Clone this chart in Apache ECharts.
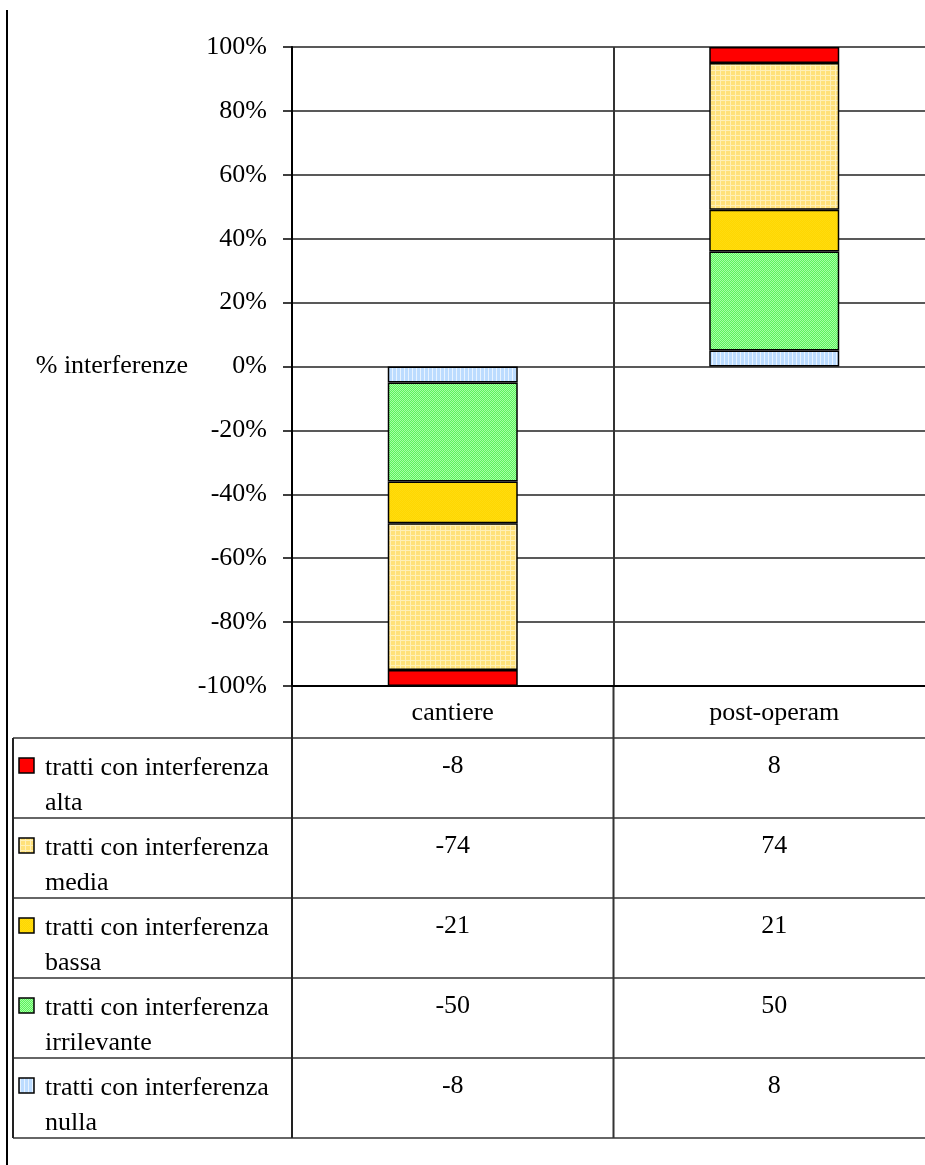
<!DOCTYPE html>
<html>
<head>
<meta charset="utf-8">
<script src="https://cdn.jsdelivr.net/npm/echarts@6/dist/echarts.min.js"></script>
<style>
  html, body { margin: 0; padding: 0; background: #fff; }
  #main { width: 925px; height: 1165px; }
</style>
</head>
<body>
<div id="main"></div>
<script>
// data
var categories = ['cantiere', 'post-operam'];
var rowNames = [
    'tratti con interferenza alta',
    'tratti con interferenza media',
    'tratti con interferenza bassa',
    'tratti con interferenza irrilevante',
    'tratti con interferenza nulla'
];
var alta = [-8, 8];
var media = [-74, 74];
var bassa = [-21, 21];
var irrilevante = [-50, 50];
var nulla = [-8, 8];
var yMin = -100, yMax = 100, yStep = 20;

var FONT = '"Liberation Serif", "Times New Roman", serif';

// small canvas tiles for the excel-like fill patterns
function tile(w, h, draw) {
    var c = document.createElement('canvas');
    c.width = w; c.height = h;
    draw(c.getContext('2d'));
    return { image: c, repeat: 'repeat' };
}
var fills = {
    alta: '#ff0000',
    media: tile(5, 5, function (g) {
        g.fillStyle = '#ffe17a'; g.fillRect(0, 0, 5, 5);
        g.fillStyle = '#fff0b8'; g.fillRect(0, 0, 1, 5); g.fillRect(0, 0, 5, 1);
    }),
    bassa: tile(2, 2, function (g) {
        g.fillStyle = '#ffd700'; g.fillRect(0, 0, 2, 2);
        g.fillStyle = '#ffdc10'; g.fillRect(0, 0, 1, 1); g.fillRect(1, 1, 1, 1);
    }),
    irrilevante: tile(2, 2, function (g) {
        g.fillStyle = '#5cf25c'; g.fillRect(0, 0, 2, 2);
        g.fillStyle = '#a6ffa6'; g.fillRect(0, 0, 1, 1); g.fillRect(1, 1, 1, 1);
    }),
    nulla: tile(4, 4, function (g) {
        g.fillStyle = '#bcdcff'; g.fillRect(0, 0, 4, 4);
        g.fillStyle = '#e8f3ff'; g.fillRect(0, 0, 1, 4);
    })
};

// table rows top to bottom, stacking order is the reverse
var rows = [
    { key: 'alta', values: alta },
    { key: 'media', values: media },
    { key: 'bassa', values: bassa },
    { key: 'irrilevante', values: irrilevante },
    { key: 'nulla', values: nulla }
];

var totals = categories.map(function (c, i) {
    var s = 0;
    rows.forEach(function (r) { s += Math.abs(r.values[i]); });
    return s;
});

var series = rows.slice().reverse().map(function (r, k) {
    return {
        name: rowNames[rows.length - 1 - k],
        type: 'bar',
        stack: 'tot',
        barWidth: 130,
        data: r.values.map(function (v, i) { return v / totals[i] * 100; }),
        itemStyle: { color: fills[r.key], borderColor: '#000', borderWidth: 1.5 },
        silent: true
    };
});

var dom = document.getElementById('main');
var myChart = echarts.init(dom, null, { renderer: 'canvas' });

var option = {
    animation: false,
    grid: { left: 292, width: 643, top: 47, bottom: 479, containLabel: false, outerBoundsMode: 'none' },
    xAxis: {
        type: 'category',
        data: categories,
        axisLine: { onZero: false, lineStyle: { color: '#000', width: 2 } },
        axisTick: { show: false },
        axisLabel: { margin: 14, fontFamily: FONT, fontSize: 26, color: '#000' },
        splitLine: { show: true, interval: 0, lineStyle: { color: '#333', width: 2 } }
    },
    yAxis: {
        type: 'value',
        min: yMin, max: yMax, interval: yStep,
        name: '% interferenze',
        nameLocation: 'middle',
        nameRotate: 0,
        nameGap: 104,
        nameTextStyle: { fontFamily: FONT, fontSize: 26, color: '#000', align: 'right' },
        axisLine: { show: true, lineStyle: { color: '#000', width: 2 } },
        axisTick: { show: true, length: 9, lineStyle: { color: '#000', width: 1.5 } },
        axisLabel: { margin: 25, fontFamily: FONT, fontSize: 26, color: '#000', formatter: '{value}%' },
        splitLine: { show: true, lineStyle: { color: '#222', width: 1.5 } }
    },
    series: series
};
myChart.setOption(option);

// data table below the plot
var rowTop = 738, rowH = 80, tableLeft = 13, W = 925;
var g = [];
var lineStyle = { stroke: '#333', lineWidth: 1.5 };
g.push({ type: 'line', shape: { x1: 7, y1: 10, x2: 7, y2: 1165 }, style: { stroke: '#000', lineWidth: 2 } });
for (var r = 0; r <= rows.length; r++) {
    var y = rowTop + r * rowH;
    g.push({ type: 'line', shape: { x1: tableLeft, y1: y, x2: W, y2: y }, style: lineStyle });
}
var tableBottom = rowTop + rows.length * rowH;
g.push({ type: 'line', shape: { x1: tableLeft, y1: rowTop, x2: tableLeft, y2: tableBottom }, style: { stroke: '#222', lineWidth: 2 } });
var x0 = myChart.convertToPixel({ xAxisIndex: 0 }, categories[0]);
var x1 = myChart.convertToPixel({ xAxisIndex: 0 }, categories[1]);
var half = (x1 - x0) / 2;
g.push({ type: 'line', shape: { x1: x0 - half, y1: 686, x2: x0 - half, y2: tableBottom }, style: { stroke: '#222', lineWidth: 2 } });
g.push({ type: 'line', shape: { x1: x0 + half, y1: 686, x2: x0 + half, y2: tableBottom }, style: { stroke: '#333', lineWidth: 2 } });

rows.forEach(function (row, i) {
    var top = rowTop + i * rowH;
    var parts = rowNames[i].split('interferenza ');
    g.push({ type: 'rect', shape: { x: 19, y: top + 20, width: 15, height: 15 },
        style: { fill: fills[row.key], stroke: '#000', lineWidth: 1.5 } });
    g.push({ type: 'text', x: 45, y: top + 30,
        style: { text: parts[0] + 'interferenza', font: '26px ' + FONT, fill: '#000', verticalAlign: 'middle' } });
    g.push({ type: 'text', x: 45, y: top + 65,
        style: { text: parts[1], font: '26px ' + FONT, fill: '#000', verticalAlign: 'middle' } });
    categories.forEach(function (c, j) {
        var cx = myChart.convertToPixel({ xAxisIndex: 0 }, c);
        g.push({ type: 'text', x: cx, y: top + 28,
            style: { text: String(row.values[j]), font: '26px ' + FONT, fill: '#000', align: 'center', verticalAlign: 'middle' } });
    });
});
myChart.setOption({ graphic: g });
window.addEventListener('resize', myChart.resize);
</script>
</body>
</html>
